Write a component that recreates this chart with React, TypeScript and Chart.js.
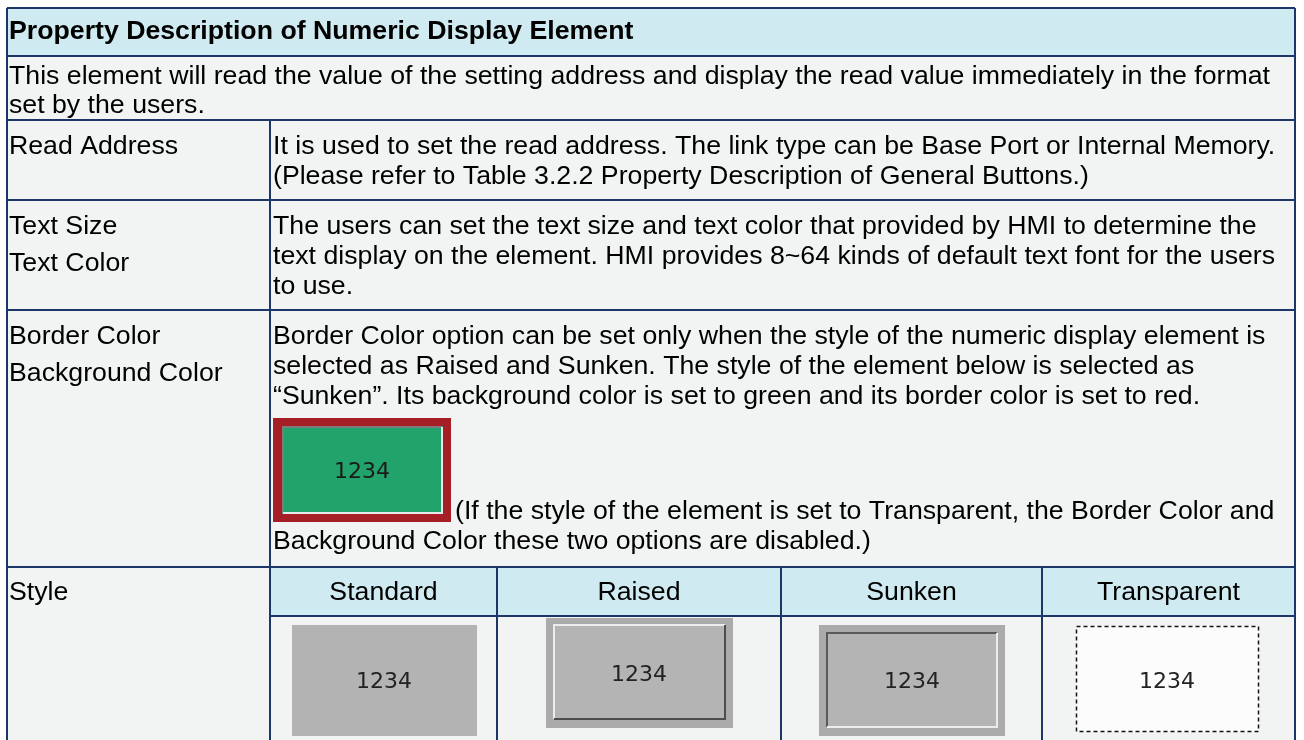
import React, { useEffect, useRef } from "react";
import { Chart, registerables } from "chart.js";

Chart.register(...registerables);

// ---------- content ----------
const titleText = "Property Description of Numeric Display Element";
const introLines = [
  "This element will read the value of the setting address and display the read value immediately in the format",
  "set by the users.",
];
const propertyLabels: string[][] = [
  ["Read Address"],
  ["Text Size", "Text Color"],
  ["Border Color", "Background Color"],
  ["Style"],
];
const propertyTexts: string[][] = [
  [
    "It is used to set the read address. The link type can be Base Port or Internal Memory.",
    "(Please refer to Table 3.2.2 Property Description of General Buttons.)",
  ],
  [
    "The users can set the text size and text color that provided by HMI to determine the",
    "text display on the element. HMI provides 8~64 kinds of default text font for the users",
    "to use.",
  ],
  [
    "Border Color option can be set only when the style of the numeric display element is",
    "selected as Raised and Sunken. The style of the element below is selected as",
    "\u201cSunken\u201d. Its background color is set to green and its border color is set to red.",
  ],
];
const noteLines = [
  "(If the style of the element is set to Transparent, the Border Color and",
  "Background Color these two options are disabled.)",
];
const styleNames = ["Standard", "Raised", "Sunken", "Transparent"];
const sampleValue = "1234";

// ---------- layout (value space of the hidden axes) ----------
const W = 1304;
const H = 740;
const tableLeft = 7;
const tableRight = 1295;
const tableTop = 8;
const colDivider = 270;
const rowLines = [56, 120, 200, 310, 567, 616]; // horizontal rules
const styleCols = [270, 497, 781, 1042, 1295];
const introBaselines = [84, 113];
const labelBaselines = [[154], [234, 271], [344, 381], [600]];
const textBaselines = [[154, 184], [234, 264, 294], [344, 374, 404]];
const noteBaselines = [519, 549];

const FS = 26.7;
const FONT = '"Liberation Sans", Arial, Helvetica, sans-serif';
const NUMFONT = '"DejaVu Sans", Verdana, sans-serif';
const LINE = "#1c3767";
const HEAD_BG = "#cfeaf0";
const BODY_BG = "#f2f4f4";

const tablePlugin = {
  id: "tablePlugin",
  beforeDraw(chart: any) {
    const ctx: CanvasRenderingContext2D = chart.ctx;
    const xs = chart.scales.x;
    const ys = chart.scales.y;
    const X = (v: number) => xs.getPixelForValue(v);
    const Y = (v: number) => ys.getPixelForValue(v);
    const rect = (x0: number, y0: number, x1: number, y1: number, fill: string) => {
      ctx.fillStyle = fill;
      ctx.fillRect(X(x0), Y(y0), X(x1) - X(x0), Y(y1) - Y(y0));
    };
    const text = (s: string, x: number, y: number, font: string, color = "#000", align: CanvasTextAlign = "left") => {
      ctx.font = font;
      ctx.fillStyle = color;
      ctx.textAlign = align;
      ctx.textBaseline = "alphabetic";
      ctx.fillText(s, X(x), Y(y));
    };
    const hline = (x0: number, x1: number, y: number) => {
      ctx.beginPath();
      ctx.moveTo(X(x0), Y(y));
      ctx.lineTo(X(x1), Y(y));
      ctx.stroke();
    };
    const vline = (x: number, y0: number, y1: number) => {
      ctx.beginPath();
      ctx.moveTo(X(x), Y(y0));
      ctx.lineTo(X(x), Y(y1));
      ctx.stroke();
    };
    const bevel = (x0: number, y0: number, x1: number, y1: number, tl: string, br: string) => {
      ctx.lineWidth = 2;
      ctx.strokeStyle = tl;
      ctx.beginPath();
      ctx.moveTo(X(x0), Y(y1));
      ctx.lineTo(X(x0), Y(y0));
      ctx.lineTo(X(x1), Y(y0));
      ctx.stroke();
      ctx.strokeStyle = br;
      ctx.beginPath();
      ctx.moveTo(X(x0), Y(y1));
      ctx.lineTo(X(x1), Y(y1));
      ctx.lineTo(X(x1), Y(y0));
      ctx.stroke();
    };
    const font = `${FS}px ${FONT}`;
    const num = `22px ${NUMFONT}`;

    ctx.save();
    rect(0, 0, W, H, "#ffffff");
    rect(tableLeft, tableTop, tableRight, H, BODY_BG);
    rect(tableLeft, tableTop, tableRight, rowLines[0], HEAD_BG);
    rect(colDivider, rowLines[4], tableRight, rowLines[5], HEAD_BG);

    text(titleText, 9, 39, `bold ${FS}px ${FONT}`);
    introLines.forEach((l, i) => text(l, 9, introBaselines[i], font));
    propertyLabels.forEach((ls, r) =>
      ls.forEach((l, i) => text(l, 9, labelBaselines[r][i], font))
    );
    propertyTexts.forEach((ls, r) =>
      ls.forEach((l, i) => text(l, 273, textBaselines[r][i], font))
    );
    noteLines.forEach((l, i) => text(l, i === 0 ? 455 : 273, noteBaselines[i], font));
    styleNames.forEach((n, i) =>
      text(n, (styleCols[i] + styleCols[i + 1]) / 2, 600, font, "#000", "center")
    );

    // green sample with red border
    rect(273, 418, 451, 522, "#a61e26");
    rect(282, 426, 443, 514, "#22a36b");
    bevel(283, 427, 442, 513, "#7d7d7d", "#e8e8e8");
    text(sampleValue, 362, 478, num, "#1a1a1a", "center");

    // Standard
    rect(292, 625, 477, 736, "#b3b3b3");
    text(sampleValue, 384, 688, num, "#222", "center");

    // Raised
    rect(546, 618, 733, 728, "#ababab");
    rect(553, 624, 726, 720, "#b4b4b4");
    bevel(554, 625, 725, 719, "#ececec", "#4d4d4d");
    text(sampleValue, 639, 681, num, "#222", "center");

    // Sunken
    rect(819, 625, 1005, 736, "#ababab");
    rect(826, 632, 998, 728, "#b4b4b4");
    bevel(827, 633, 997, 727, "#5a5a5a", "#ececec");
    text(sampleValue, 912, 688, num, "#222", "center");

    // Transparent
    rect(1076, 626, 1259, 732, "#fcfcfc");
    ctx.lineWidth = 1.5;
    ctx.strokeStyle = "#111";
    ctx.setLineDash([4, 3]);
    ctx.strokeRect(X(1076.5), Y(626.5), X(1258.5) - X(1076.5), Y(731.5) - Y(626.5));
    ctx.setLineDash([]);
    text(sampleValue, 1167, 688, num, "#222", "center");

    // grid lines
    ctx.strokeStyle = LINE;
    ctx.lineWidth = 2;
    hline(tableLeft, tableRight, tableTop);
    rowLines.forEach((y, i) => hline(i < 5 ? tableLeft : colDivider, tableRight, y));
    vline(tableLeft, tableTop, H);
    vline(tableRight, tableTop, H);
    vline(colDivider, rowLines[1], H);
    styleCols.slice(1, 4).forEach((x) => vline(x, rowLines[4], H));
    ctx.restore();
  },
};

export default function App() {
  const ref = useRef<HTMLCanvasElement | null>(null);
  useEffect(() => {
    if (!ref.current) return;
    const chart = new Chart(ref.current, {
      type: "scatter",
      data: { datasets: [{ data: [], pointRadius: 0 }] },
      options: {
        animation: false,
        responsive: false,
        devicePixelRatio: 1,
        layout: { padding: 0 },
        plugins: { legend: { display: false }, tooltip: { enabled: false } },
        scales: {
          x: { type: "linear", min: 0, max: W, display: false },
          y: { type: "linear", min: 0, max: H, reverse: true, display: false },
        },
      },
      plugins: [tablePlugin],
    });
    return () => chart.destroy();
  }, []);
  return (
    <div style={{ position: "fixed", left: 0, top: 0, width: W, height: H, background: "#fff" }}>
      <canvas ref={ref} width={W} height={H} style={{ display: "block" }} />
    </div>
  );
}
